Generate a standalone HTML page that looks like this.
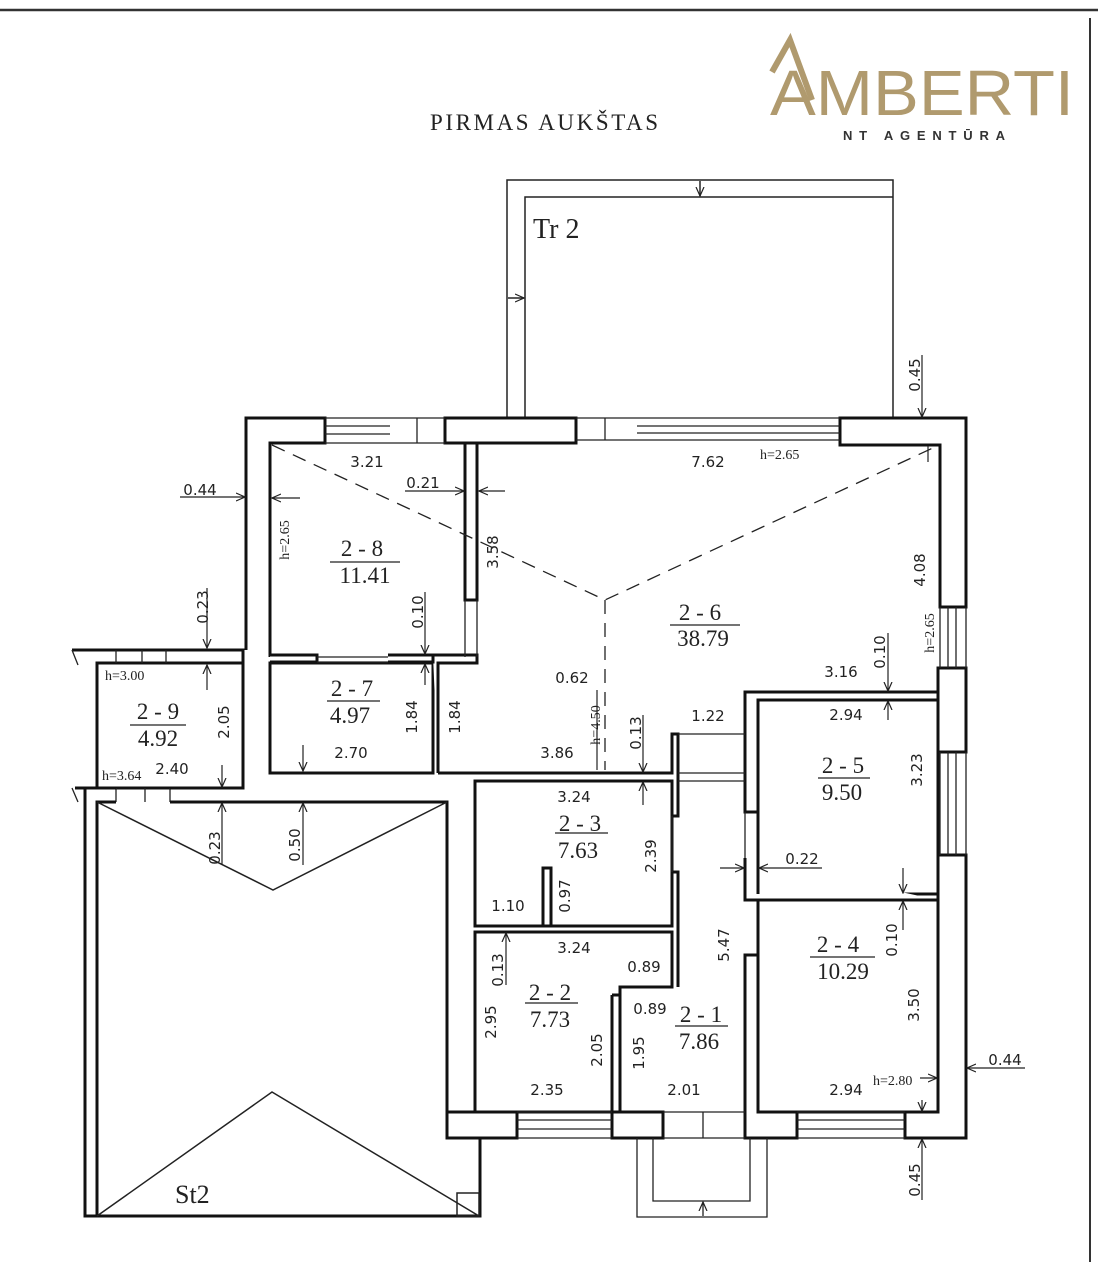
<!DOCTYPE html>
<html><head><meta charset="utf-8"><style>
html,body{margin:0;padding:0;background:#fff;}
svg{display:block;}
.d{font-family:"DejaVu Sans","Liberation Sans",sans-serif;font-size:15px;fill:#222;}
.s{font-family:"Liberation Serif",serif;fill:#222;}
.r{font-family:"Liberation Serif",serif;font-size:23px;fill:#222;}
</style></head><body>
<svg width="1098" height="1262" viewBox="0 0 1098 1262" xmlns="http://www.w3.org/2000/svg">
<defs>
<marker id="a" markerWidth="10" markerHeight="10" refX="9" refY="5" orient="auto" markerUnits="userSpaceOnUse"><path d="M0,1 L9,5 L0,9" fill="none" stroke="#222" stroke-width="1.2"/></marker>
</defs>
<rect width="1098" height="1262" fill="#fff"/>
<line x1="0" y1="10" x2="1098" y2="10" stroke="#333" stroke-width="2.5"/>
<line x1="1090" y1="18" x2="1090" y2="1262" stroke="#333" stroke-width="2"/>

<!-- logo -->
<g fill="none" stroke="#b09a6e" stroke-width="6">
<path d="M772,72 L790,40 L812,100"/>
</g>
<text x="770" y="115" font-family="Liberation Sans, sans-serif" font-size="64" fill="#b09a6e" textLength="304" lengthAdjust="spacingAndGlyphs">AMBERTI</text>
<text x="843" y="140" font-family="Liberation Sans, sans-serif" font-size="13" font-weight="bold" fill="#333" textLength="162">NT AGENTŪRA</text>

<text x="430" y="130" class="s" font-size="23" textLength="228">PIRMAS AUKŠTAS</text>

<g fill="none" stroke="#222" stroke-width="1.5">
<path d="M507,418 V180 H893 V418"/>
<path d="M525,418 V197 H893"/>
<line x1="700" y1="181" x2="700" y2="196" marker-end="url(#a)"/>
<line x1="508" y1="298" x2="524" y2="298" marker-end="url(#a)"/>
</g>
<text x="533" y="238" class="s" font-size="28">Tr 2</text>

<g fill="#fff" stroke="#111" stroke-width="3">
<path d="M246,650 V418 H325 V443 H270 V657"/>
<rect x="445" y="418" width="131" height="25"/>
<path d="M840,418 H966 V607 H940 V445 H840 Z"/>
<rect x="938" y="668" width="28" height="84"/>
<path d="M938,855 H966 V1138 H905 V1112 H938 Z"/>
<rect x="465" y="443" width="12" height="157"/>
<path d="M72,650 H243 V788 H97 V663 H116 M166,663 H243"/>
<rect x="97" y="663" width="146" height="125" fill="none"/>
<rect x="270" y="663" width="163" height="110" fill="none"/>
<path d="M433,655 H477 V663 H438 V773"/>
<path d="M270,655 H317 V662 H270 M388,655 H433 V662 H388"/>
<path d="M438,773 H672 V734 H678 V816 H672"/>
<path d="M672,872 H678 V987"/>
<rect x="475" y="781" width="197" height="145" fill="none"/>
<rect x="543" y="868" width="8" height="58"/>
<path d="M475,932 H672 V987 H620 V1112 H475 Z" fill="none"/>
<path d="M612,995 V1112 M612,995 H620"/>
<path d="M745,812 V692 H938 V700 H758 V812 Z"/>
<rect x="758" y="700" width="180" height="194" fill="none"/>
<path d="M745,858 V900 H938 M758,894 V858"/>
<path d="M745,955 V1138 H797 V1112 H758 V955 Z"/>
<rect x="758" y="900" width="180" height="212" fill="none"/>
<rect x="447" y="1112" width="70" height="26"/>
<rect x="612" y="1112" width="51" height="26"/>
</g>
<g stroke="#222" stroke-width="1.3" fill="none">
<path d="M325,418 H390 M325,426 H390 M325,434 H390 M325,443 H390"/>
<path d="M390,418 H445 M390,443 H445 M417,418 V443"/>
<path d="M576,418 H637 M576,440 H637 M605,418 V440"/>
<path d="M637,418 H840 M637,426 H840 M637,433 H840 M637,440 H840"/>
<path d="M940,607 V668 M948,607 V668 M956,607 V668 M966,607 V668"/>
<path d="M940,752 V855 M948,752 V855 M956,752 V855 M966,752 V855"/>
<path d="M517,1112 H612 M517,1120 H612 M517,1129 H612 M517,1138 H612"/>
<path d="M663,1112 H745 M663,1138 H745 M703,1112 V1138"/>
<path d="M797,1112 H905 M797,1120 H905 M797,1129 H905 M797,1138 H905"/>
<path d="M465,600 V657 M477,600 V657"/>
<path d="M317,657 H388 M317,662 H388"/>
<path d="M678,734 H745 M678,773 H745 M678,781 H745"/>
<path d="M745,812 V858 M672,816 V872"/>
<path d="M116,650 V663 M166,650 V663 M142,650 V663"/>
<path d="M116,788 V802 M170,788 V802 M145,788 V802"/>
<path d="M72,650 L78,665 M72,788 L78,802"/>
<path d="M637,1138 V1217 H767 V1138 M653,1138 V1201 H750 V1138"/>
<line x1="703" y1="1216" x2="703" y2="1202" marker-end="url(#a)"/>
</g>
<g fill="none" stroke="#111" stroke-width="3">
<path d="M85,788 V1216 H480 V1138 H447 V802 H170 M97,1216 V802 H116"/>
<path d="M75,788 H116 M170,788 H243"/>
</g>
<g fill="none" stroke="#222" stroke-width="1.5">
<path d="M97,802 L273,890 L447,802"/>
<path d="M97,1216 L272,1092 L479,1216"/>
<rect x="457" y="1193" width="22" height="23"/>
</g>
<text x="175" y="1203" class="s" font-size="26">St2</text>

<g stroke="#222" stroke-width="1.3" fill="none" stroke-dasharray="14,9">
<path d="M272,445 L605,600 L935,447"/>
<path d="M605,600 V770"/>
</g>

<g stroke="#222" stroke-width="1.2" fill="none">
<line x1="180" y1="497" x2="245" y2="497" marker-end="url(#a)"/>
<line x1="405" y1="491" x2="464" y2="491" marker-end="url(#a)"/>
<line x1="505" y1="491" x2="479" y2="491" marker-end="url(#a)"/>
<line x1="300" y1="498" x2="272" y2="498" marker-end="url(#a)"/>
<line x1="207" y1="588" x2="207" y2="648" marker-end="url(#a)"/>
<line x1="207" y1="690" x2="207" y2="665" marker-end="url(#a)"/>
<line x1="425" y1="592" x2="425" y2="654" marker-end="url(#a)"/>
<line x1="425" y1="685" x2="425" y2="664" marker-end="url(#a)"/>
<line x1="222" y1="765" x2="222" y2="787" marker-end="url(#a)"/>
<line x1="303" y1="745" x2="303" y2="771" marker-end="url(#a)"/>
<line x1="643" y1="715" x2="643" y2="772" marker-end="url(#a)"/>
<line x1="643" y1="805" x2="643" y2="782" marker-end="url(#a)"/>
<line x1="888" y1="633" x2="888" y2="691" marker-end="url(#a)"/>
<line x1="888" y1="720" x2="888" y2="701" marker-end="url(#a)"/>
<line x1="922" y1="355" x2="922" y2="417" marker-end="url(#a)"/>
<line x1="922" y1="1200" x2="922" y2="1139" marker-end="url(#a)"/>
<line x1="1025" y1="1068" x2="967" y2="1068" marker-end="url(#a)"/>
<line x1="920" y1="1078" x2="937" y2="1078" marker-end="url(#a)"/>
<line x1="922" y1="1100" x2="922" y2="1111" marker-end="url(#a)"/>
<line x1="720" y1="868" x2="744" y2="868" marker-end="url(#a)"/>
<line x1="822" y1="868" x2="759" y2="868" marker-end="url(#a)"/>
<line x1="903" y1="868" x2="903" y2="893" marker-end="url(#a)"/>
<line x1="903" y1="930" x2="903" y2="901" marker-end="url(#a)"/>
<line x1="222" y1="865" x2="222" y2="803" marker-end="url(#a)"/>
<line x1="303" y1="865" x2="303" y2="803" marker-end="url(#a)"/>
<line x1="506" y1="985" x2="506" y2="933" marker-end="url(#a)"/>
<line x1="928" y1="462" x2="928" y2="446"/>
<line x1="597" y1="690" x2="597" y2="770"/>
<line x1="330" y1="562" x2="400" y2="562"/>
<line x1="130" y1="725" x2="186" y2="725"/>
<line x1="327" y1="701" x2="380" y2="701"/>
<line x1="670" y1="625" x2="740" y2="625"/>
<line x1="818" y1="778" x2="870" y2="778"/>
<line x1="555" y1="833" x2="608" y2="833"/>
<line x1="525" y1="1003" x2="578" y2="1003"/>
<line x1="675" y1="1026" x2="728" y2="1026"/>
<line x1="810" y1="957" x2="875" y2="957"/>
</g>

<g class="r" text-anchor="middle">
<text x="362" y="556">2 - 8</text><text x="365" y="583">11.41</text>
<text x="158" y="719">2 - 9</text><text x="158" y="746">4.92</text>
<text x="352" y="696">2 - 7</text><text x="350" y="723">4.97</text>
<text x="700" y="620">2 - 6</text><text x="703" y="646">38.79</text>
<text x="843" y="773">2 - 5</text><text x="842" y="800">9.50</text>
<text x="580" y="831">2 - 3</text><text x="578" y="858">7.63</text>
<text x="550" y="1000">2 - 2</text><text x="550" y="1027">7.73</text>
<text x="701" y="1022">2 - 1</text><text x="699" y="1049">7.86</text>
<text x="838" y="952">2 - 4</text><text x="843" y="979">10.29</text>
</g>

<g class="d" text-anchor="middle">
<text x="367" y="467">3.21</text>
<text x="423" y="488">0.21</text>
<text x="200" y="495">0.44</text>
<text x="708" y="467">7.62</text>
<text x="572" y="683">0.62</text>
<text x="557" y="758">3.86</text>
<text x="708" y="721">1.22</text>
<text x="841" y="677">3.16</text>
<text x="846" y="720">2.94</text>
<text x="802" y="864">0.22</text>
<text x="574" y="802">3.24</text>
<text x="508" y="911">1.10</text>
<text x="574" y="953">3.24</text>
<text x="644" y="972">0.89</text>
<text x="650" y="1014">0.89</text>
<text x="547" y="1095">2.35</text>
<text x="684" y="1095">2.01</text>
<text x="846" y="1095">2.94</text>
<text x="1005" y="1065">0.44</text>
<text x="172" y="774">2.40</text>
<text x="351" y="758">2.70</text>
</g>
<g class="s" font-size="14">
<text x="760" y="459">h=2.65</text>
<text x="105" y="680">h=3.00</text>
<text x="102" y="780">h=3.64</text>
<text x="873" y="1085">h=2.80</text>
</g>
<g class="d" text-anchor="middle">
<text transform="translate(498,552) rotate(-90)">3.58</text>
<text transform="translate(423,612) rotate(-90)">0.10</text>
<text transform="translate(208,607) rotate(-90)">0.23</text>
<text transform="translate(229,722) rotate(-90)">2.05</text>
<text transform="translate(417,717) rotate(-90)">1.84</text>
<text transform="translate(460,717) rotate(-90)">1.84</text>
<text transform="translate(641,733) rotate(-90)">0.13</text>
<text transform="translate(925,570) rotate(-90)">4.08</text>
<text transform="translate(885,652) rotate(-90)">0.10</text>
<text transform="translate(922,770) rotate(-90)">3.23</text>
<text transform="translate(656,856) rotate(-90)">2.39</text>
<text transform="translate(570,896) rotate(-90)">0.97</text>
<text transform="translate(503,970) rotate(-90)">0.13</text>
<text transform="translate(496,1022) rotate(-90)">2.95</text>
<text transform="translate(602,1050) rotate(-90)">2.05</text>
<text transform="translate(644,1053) rotate(-90)">1.95</text>
<text transform="translate(729,945) rotate(-90)">5.47</text>
<text transform="translate(897,940) rotate(-90)">0.10</text>
<text transform="translate(919,1005) rotate(-90)">3.50</text>
<text transform="translate(920,375) rotate(-90)">0.45</text>
<text transform="translate(920,1180) rotate(-90)">0.45</text>
<text transform="translate(220,848) rotate(-90)">0.23</text>
<text transform="translate(300,845) rotate(-90)">0.50</text>
</g>
<g class="s" font-size="14" text-anchor="middle">
<text transform="translate(289,540) rotate(-90)">h=2.65</text>
<text transform="translate(934,633) rotate(-90)">h=2.65</text>
<text transform="translate(600,725) rotate(-90)">h=4.50</text>
</g>
</svg>
</body></html>
